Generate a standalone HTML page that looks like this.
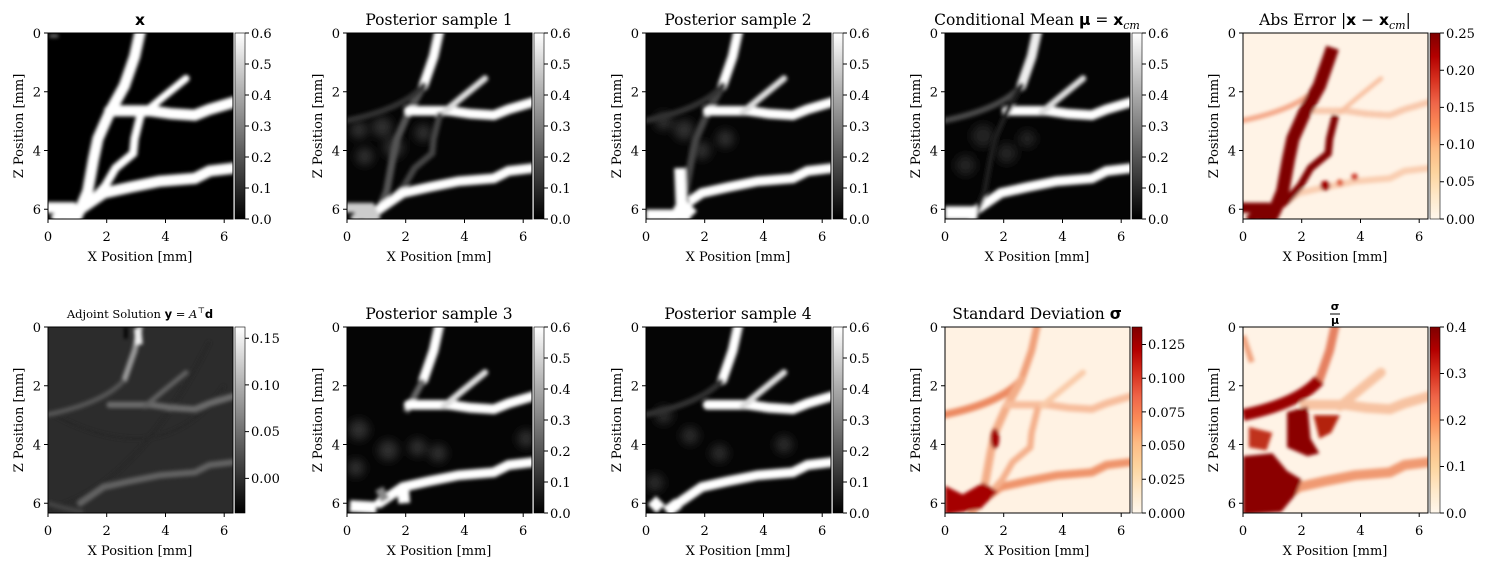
<!DOCTYPE html>
<html><head><meta charset="utf-8"><style>
html,body{margin:0;padding:0;background:#fff;}
svg{display:block;font-family:"DejaVu Serif","Liberation Serif",serif;}
.t{font-size:13px;fill:#000;}
.ti{font-size:15.5px;fill:#000;text-anchor:middle;}
.e{text-anchor:end;}
.m{text-anchor:middle;}
</style></head><body>
<svg width="1489" height="566" viewBox="0 0 1489 566" xmlns="http://www.w3.org/2000/svg">
<defs>
<linearGradient id="gray" x1="0" y1="1" x2="0" y2="0"><stop offset="0" stop-color="#000"/><stop offset="1" stop-color="#fff"/></linearGradient>
<linearGradient id="orrd" x1="0" y1="1" x2="0" y2="0">
<stop offset="0" stop-color="#fff7ec"/><stop offset=".125" stop-color="#fee8c8"/><stop offset=".25" stop-color="#fdd49e"/><stop offset=".375" stop-color="#fdbb84"/><stop offset=".5" stop-color="#fc8d59"/><stop offset=".625" stop-color="#ef6548"/><stop offset=".75" stop-color="#d7301f"/><stop offset=".875" stop-color="#b30000"/><stop offset="1" stop-color="#7f0000"/></linearGradient>
<filter id="b" x="-20%" y="-20%" width="140%" height="140%"><feGaussianBlur stdDeviation="0.06"/></filter>
<filter id="b2" x="-20%" y="-20%" width="140%" height="140%"><feGaussianBlur stdDeviation="0.15"/></filter>
<clipPath id="clip"><rect x="0" y="0" width="6.3" height="6.33"/></clipPath>
<path id="Tup" d="M3.15,-0.1 L2.95,0.8 L2.6,1.8" fill="none" stroke-linecap="round"/>
<path id="Tlow" d="M2.6,1.8 L2.1,2.7 L1.7,3.6 L1.55,4.3 L1.35,5.4 L1.1,6.0 L0.9,6.4" fill="none" stroke-linecap="round"/>
<path id="H1" d="M2.1,2.65 L3.5,2.65 L4.2,2.75 L5.0,2.8 L5.5,2.6 L6.35,2.35" fill="none" stroke-linecap="round"/>
<path id="D" d="M3.3,2.7 L3.9,2.2 L4.7,1.55" fill="none" stroke-linecap="round"/>
<path id="B" d="M3.15,2.8 L2.95,3.6 L2.9,4.1 L2.3,4.6 L1.95,5.2 L1.5,5.7 L1.05,6.05" fill="none" stroke-linecap="round"/>
<path id="H2" d="M1.1,6.0 L1.9,5.45 L2.8,5.25 L3.8,5.05 L5.0,4.95 L5.5,4.7 L6.35,4.6" fill="none" stroke-linecap="round"/>
<path id="BL" d="M-0.1,5.95 L0.8,5.95 L1.0,6.4 M0.2,6.4 L0.5,6.15 L0.8,6.4" fill="none"/>
<path id="Arc" d="M2.6,1.8 Q1.9,2.6 -0.1,3.0" fill="none"/>
<g id="ax">
<rect x="0" y="0" width="185" height="186" fill="none" stroke="#000" stroke-width="1"/>
<path d="M0,186v4M58.7,186v4M117.5,186v4M176.2,186v4M0,0h-4M0,58.7h-4M0,117.5h-4M0,176.2h-4" stroke="#000"/>
</g>
</defs>

<!-- P1 x -->
<g transform="translate(48,33)">
<g transform="scale(29.365)" clip-path="url(#clip)"><rect x="0" y="0" width="6.3" height="6.4" fill="#000"/>
<g stroke="#fff" stroke-width="0.38" filter="url(#b)"><use href="#Tup"/><use href="#Tlow"/><use href="#H1"/><use href="#D" stroke-width="0.25"/><use href="#B" stroke-width="0.28"/><use href="#H2"/><use href="#BL"/><path d="M0.05,0.1h0.3" stroke="#666" stroke-width="0.12"/></g></g>
<use href="#ax"/>
<rect x="187" y="0" width="10" height="186" fill="url(#gray)" stroke="#000" stroke-width="0.6"/>
<text class="ti" x="92" y="-8" font-weight="bold" font-family="DejaVu Sans,sans-serif">x</text>
</g>
<!-- P2 -->
<g transform="translate(347,33)">
<g transform="scale(29.365)" clip-path="url(#clip)"><rect x="0" y="0" width="6.3" height="6.4" fill="#050505"/>
<g filter="url(#b2)" fill="#2e2e2e"><circle cx="1.2" cy="3.2" r="0.35"/><circle cx="1.6" cy="3.9" r="0.35"/><circle cx="0.6" cy="4.2" r="0.3"/><circle cx="2.6" cy="3.4" r="0.3"/><circle cx="0.4" cy="3.3" r="0.3"/></g>
<g stroke="#fff" stroke-width="0.33" filter="url(#b)"><use href="#Tup"/><use href="#Tlow" stroke="#555" stroke-width="0.25"/><use href="#H1"/><use href="#D" stroke-width="0.22" stroke="#ddd"/><use href="#B" stroke="#444" stroke-width="0.22"/><use href="#H2"/><use href="#BL" stroke="#ccc"/><use href="#Arc" stroke="#333" stroke-width="0.2"/></g></g>
<use href="#ax"/>
<rect x="187" y="0" width="10" height="186" fill="url(#gray)" stroke="#000" stroke-width="0.6"/>
<text class="ti" x="92" y="-8">Posterior sample 1</text>
</g>
<!-- P3 -->
<g transform="translate(646,33)">
<g transform="scale(29.365)" clip-path="url(#clip)"><rect x="0" y="0" width="6.3" height="6.4" fill="#050505"/>
<g filter="url(#b2)" fill="#2e2e2e"><circle cx="1.3" cy="3.3" r="0.35"/><circle cx="1.9" cy="4.0" r="0.3"/><circle cx="0.6" cy="3.0" r="0.3"/><circle cx="2.7" cy="3.6" r="0.3"/></g>
<g stroke="#fff" stroke-width="0.33" filter="url(#b)"><use href="#Tup"/><use href="#Tlow" stroke="#444" stroke-width="0.25"/><use href="#H1"/><use href="#D" stroke-width="0.22" stroke="#ddd"/><use href="#H2"/><use href="#Arc" stroke="#333" stroke-width="0.2"/><path d="M1.15,4.6 L1.2,5.8 L1.6,6.2 M0,6.2 L1.5,6.2" stroke-width="0.38"/></g></g>
<use href="#ax"/>
<rect x="187" y="0" width="10" height="186" fill="url(#gray)" stroke="#000" stroke-width="0.6"/>
<text class="ti" x="92" y="-8">Posterior sample 2</text>
</g>
<!-- P4 mean -->
<g transform="translate(945,33)">
<g transform="scale(29.365)" clip-path="url(#clip)"><rect x="0" y="0" width="6.3" height="6.4" fill="#040404"/>
<g filter="url(#b2)" fill="#222"><circle cx="1.3" cy="3.5" r="0.4"/><circle cx="2.1" cy="4.1" r="0.35"/><circle cx="0.7" cy="4.5" r="0.35"/><circle cx="2.8" cy="3.6" r="0.3"/></g>
<g stroke="#fff" stroke-width="0.33" filter="url(#b)"><use href="#Tup" stroke="#eee"/><use href="#Arc" stroke="#4a4a4a" stroke-width="0.2"/><use href="#H1"/><use href="#D" stroke-width="0.22" stroke="#ddd"/><use href="#H2"/><use href="#Tlow" stroke="#1e1e1e" stroke-width="0.2"/><rect x="0" y="5.9" width="1.1" height="0.45" fill="#fff" stroke="none"/></g></g>
<use href="#ax"/>
<rect x="187" y="0" width="10" height="186" fill="url(#gray)" stroke="#000" stroke-width="0.6"/>
<text class="ti" x="92" y="-8">Conditional Mean <tspan font-weight="bold" font-family="DejaVu Sans,sans-serif">μ</tspan> = <tspan font-weight="bold" font-family="DejaVu Sans,sans-serif">x</tspan><tspan font-style="italic" font-size="11" dy="4">cm</tspan></text>
</g>
<!-- P5 abs error -->
<g transform="translate(1243,33)">
<g transform="scale(29.365)" clip-path="url(#clip)"><rect x="0" y="0" width="6.3" height="6.4" fill="#fff3e6"/>
<g filter="url(#b)" fill="none"><use href="#Arc" stroke="#f4a889" stroke-width="0.18"/><use href="#H1" stroke="#f8c8ac" stroke-width="0.22" stroke-dasharray="0.15 0.1"/><use href="#D" stroke="#f8c0a0" stroke-width="0.15"/><use href="#H2" stroke="#f9cdb0" stroke-width="0.22"/>
<path d="M3.05,0.5 L2.95,0.8 L2.6,1.8 L2.1,2.7 L1.7,3.6 L1.55,4.3 L1.35,5.4 L1.1,6.0 L0.9,6.4" stroke="#7f0000" stroke-width="0.45"/>
<path d="M3.15,2.8 L2.95,3.6 L2.9,4.1 L2.3,4.6 L1.95,5.2 L1.5,5.7 L1.05,6.05" stroke="#7f0000" stroke-width="0.25"/>
<use href="#BL" stroke="#7f0000" stroke-width="0.35"/>
<circle cx="2.8" cy="5.2" r="0.17" fill="#a00000"/><circle cx="3.8" cy="4.9" r="0.12" fill="#d04030"/><circle cx="3.3" cy="5.1" r="0.12" fill="#e06040"/></g></g>
<use href="#ax"/>
<rect x="187" y="0" width="10" height="186" fill="url(#orrd)" stroke="#000" stroke-width="0.6"/>
<text class="ti" x="92" y="-8">Abs Error |<tspan font-weight="bold" font-family="DejaVu Sans,sans-serif">x</tspan> − <tspan font-weight="bold" font-family="DejaVu Sans,sans-serif">x</tspan><tspan font-style="italic" font-size="11" dy="4">cm</tspan><tspan dy="-4">|</tspan></text>
</g>

<!-- P6 adjoint -->
<g transform="translate(48,327)">
<g transform="scale(29.365)" clip-path="url(#clip)"><rect x="0" y="0" width="6.3" height="6.4" fill="#2c2c2c"/>
<g filter="url(#b)" fill="none"><path d="M5.5,0.5 Q3,5.5 0,6.2" stroke="#262626" stroke-width="0.1"/><path d="M6,2 Q4,5 0.2,3" stroke="#282828" stroke-width="0.08"/>
<use href="#Tup" stroke="#9a9a9a" stroke-width="0.2"/><use href="#Arc" stroke="#555" stroke-width="0.17"/><use href="#H1" stroke="#6a6a6a" stroke-width="0.22"/><use href="#D" stroke="#606060" stroke-width="0.17"/><use href="#H2" stroke="#626262" stroke-width="0.22"/><path d="M3.05,0.05 L3.1,0.6" stroke="#eee" stroke-width="0.25"/><path d="M2.65,0 v0.4" stroke="#000" stroke-width="0.12"/><path d="M0,6 Q0.6,6.2 1.2,6.3" stroke="#444" stroke-width="0.15"/></g></g>
<use href="#ax"/>
<rect x="187" y="0" width="10" height="186" fill="url(#gray)" stroke="#000" stroke-width="0.6"/>
<text x="92" y="-9" style="font-size:11.5px" text-anchor="middle">Adjoint Solution <tspan font-weight="bold" font-family="DejaVu Sans,sans-serif">y</tspan> = <tspan font-style="italic">A</tspan><tspan font-size="8" dy="-5">⊤</tspan><tspan dy="5" font-weight="bold" font-family="DejaVu Sans,sans-serif">d</tspan></text>
</g>
<!-- P7 -->
<g transform="translate(347,327)">
<g transform="scale(29.365)" clip-path="url(#clip)"><rect x="0" y="0" width="6.3" height="6.4" fill="#050505"/>
<g filter="url(#b2)" fill="#2e2e2e"><circle cx="0.4" cy="3.5" r="0.35"/><circle cx="1.4" cy="4.2" r="0.35"/><circle cx="2.4" cy="4.1" r="0.3"/><circle cx="0.3" cy="4.8" r="0.3"/><circle cx="3.1" cy="4.3" r="0.3"/><circle cx="6.1" cy="3.8" r="0.3"/></g>
<g stroke="#fff" stroke-width="0.33" filter="url(#b)"><use href="#Tup"/><path d="M2.6,1.8 L2.0,2.9" stroke="#666" stroke-width="0.22"/><use href="#H1"/><use href="#D" stroke-width="0.22" stroke="#ddd"/><use href="#H2"/><path d="M0.1,6.1 L1.0,6.15 M1.9,5.4 L1.95,6.0" stroke-width="0.4"/><path d="M1.1,5.5 L1.3,5.9" stroke="#888" stroke-width="0.3"/></g></g>
<use href="#ax"/>
<rect x="187" y="0" width="10" height="186" fill="url(#gray)" stroke="#000" stroke-width="0.6"/>
<text class="ti" x="92" y="-8">Posterior sample 3</text>
</g>
<!-- P8 -->
<g transform="translate(646,327)">
<g transform="scale(29.365)" clip-path="url(#clip)"><rect x="0" y="0" width="6.3" height="6.4" fill="#050505"/>
<g filter="url(#b2)" fill="#2a2a2a"><circle cx="0.6" cy="3.0" r="0.3"/><circle cx="1.5" cy="3.7" r="0.3"/><circle cx="2.5" cy="4.3" r="0.3"/><circle cx="0.3" cy="5.3" r="0.3"/><circle cx="4.7" cy="4.0" r="0.3"/></g>
<g stroke="#fff" stroke-width="0.33" filter="url(#b)"><use href="#Tup"/><use href="#Arc" stroke="#333" stroke-width="0.2"/><use href="#H1"/><use href="#D" stroke-width="0.22" stroke="#ddd"/><use href="#H2"/><path d="M0.2,5.9 L0.5,6.2 M1.1,6.0 L0.7,6.3" stroke-width="0.4"/></g></g>
<use href="#ax"/>
<rect x="187" y="0" width="10" height="186" fill="url(#gray)" stroke="#000" stroke-width="0.6"/>
<text class="ti" x="92" y="-8">Posterior sample 4</text>
</g>
<!-- P9 std -->
<g transform="translate(945,327)">
<g transform="scale(29.365)" clip-path="url(#clip)"><rect x="0" y="0" width="6.3" height="6.4" fill="#fff2e3"/>
<g filter="url(#b)" fill="none"><use href="#Tup" stroke="#f0a07a" stroke-width="0.25"/><use href="#Arc" stroke="#ec8a62" stroke-width="0.26"/><use href="#Tlow" stroke="#f3ad88" stroke-width="0.28"/><use href="#H1" stroke="#f7bd9c" stroke-width="0.25"/><use href="#D" stroke="#f9caa8" stroke-width="0.2"/><use href="#H2" stroke="#ef946c" stroke-width="0.28"/><use href="#B" stroke="#f4b08c" stroke-width="0.22"/>
<ellipse cx="1.7" cy="3.8" rx="0.15" ry="0.35" fill="#a00000"/>
<path d="M0,5.4 L0.6,5.7 L1.3,5.3 L1.8,5.6 L1.2,6.2 L0,6.4Z" fill="#a50000"/></g></g>
<use href="#ax"/>
<rect x="187" y="0" width="10" height="186" fill="url(#orrd)" stroke="#000" stroke-width="0.6"/>
<text class="ti" x="92" y="-8">Standard Deviation <tspan font-weight="bold" font-family="DejaVu Sans,sans-serif">σ</tspan></text>
</g>
<!-- P10 ratio -->
<g transform="translate(1243,327)">
<g transform="scale(29.365)" clip-path="url(#clip)"><rect x="0" y="0" width="6.3" height="6.4" fill="#fff3e6"/>
<g filter="url(#b)" fill="none"><use href="#Tup" stroke="#e58060" stroke-width="0.3"/><path d="M0,0.3 L0.3,1.2" stroke="#f0a27e" stroke-width="0.2"/><use href="#H1" stroke="#f7c3a2" stroke-width="0.34"/><use href="#D" stroke="#f7c3a2" stroke-width="0.32"/><use href="#H2" stroke="#f09a72" stroke-width="0.34"/>
<path d="M2.6,1.8 Q1.9,2.6 0,3.0" stroke="#9a0000" stroke-width="0.4"/>
<path d="M1.5,2.9 L2.2,2.7 L2.3,3.8 L2.6,4.3 L2.2,4.4 L1.5,4.1Z" fill="#8b0000"/>
<path d="M2.4,3.0 L3.3,3.0 L3.0,3.6 L2.6,3.8Z" fill="#b32010"/>
<path d="M0,4.4 L1.0,4.3 L1.5,4.9 L2.0,5.2 L1.8,5.7 L1.3,6.3 L0,6.4Z" fill="#8b0000"/>
<path d="M0.2,3.4 L1.0,3.6 L0.8,4.2 L0.2,4.1Z" fill="#c0301f"/></g></g>
<use href="#ax"/>
<rect x="187" y="0" width="10" height="186" fill="url(#orrd)" stroke="#000" stroke-width="0.6"/>
<text class="ti" x="92" y="-17" font-weight="bold" font-family="DejaVu Sans,sans-serif" style="font-size:11px">σ</text>
<path d="M87,-13h10" stroke="#000" stroke-width="1"/>
<text class="ti" x="92" y="-3" font-weight="bold" font-family="DejaVu Sans,sans-serif" style="font-size:11px">μ</text>
</g>

<g class="t">
<g transform="translate(48,33)"><text class="t m" x="0" y="208">0</text><text class="t m" x="58.7" y="208">2</text><text class="t m" x="117.5" y="208">4</text><text class="t m" x="176.2" y="208">6</text><text class="t e" x="-7" y="5">0</text><text class="t e" x="-7" y="63.7">2</text><text class="t e" x="-7" y="122.5">4</text><text class="t e" x="-7" y="181.2">6</text><text class="t m" x="92" y="228">X Position [mm]</text><text class="t m" transform="translate(-25,93) rotate(-90)">Z Position [mm]</text></g>
<g transform="translate(347,33)"><text class="t m" x="0" y="208">0</text><text class="t m" x="58.7" y="208">2</text><text class="t m" x="117.5" y="208">4</text><text class="t m" x="176.2" y="208">6</text><text class="t e" x="-7" y="5">0</text><text class="t e" x="-7" y="63.7">2</text><text class="t e" x="-7" y="122.5">4</text><text class="t e" x="-7" y="181.2">6</text><text class="t m" x="92" y="228">X Position [mm]</text><text class="t m" transform="translate(-25,93) rotate(-90)">Z Position [mm]</text></g>
<g transform="translate(646,33)"><text class="t m" x="0" y="208">0</text><text class="t m" x="58.7" y="208">2</text><text class="t m" x="117.5" y="208">4</text><text class="t m" x="176.2" y="208">6</text><text class="t e" x="-7" y="5">0</text><text class="t e" x="-7" y="63.7">2</text><text class="t e" x="-7" y="122.5">4</text><text class="t e" x="-7" y="181.2">6</text><text class="t m" x="92" y="228">X Position [mm]</text><text class="t m" transform="translate(-25,93) rotate(-90)">Z Position [mm]</text></g>
<g transform="translate(945,33)"><text class="t m" x="0" y="208">0</text><text class="t m" x="58.7" y="208">2</text><text class="t m" x="117.5" y="208">4</text><text class="t m" x="176.2" y="208">6</text><text class="t e" x="-7" y="5">0</text><text class="t e" x="-7" y="63.7">2</text><text class="t e" x="-7" y="122.5">4</text><text class="t e" x="-7" y="181.2">6</text><text class="t m" x="92" y="228">X Position [mm]</text><text class="t m" transform="translate(-25,93) rotate(-90)">Z Position [mm]</text></g>
<g transform="translate(1243,33)"><text class="t m" x="0" y="208">0</text><text class="t m" x="58.7" y="208">2</text><text class="t m" x="117.5" y="208">4</text><text class="t m" x="176.2" y="208">6</text><text class="t e" x="-7" y="5">0</text><text class="t e" x="-7" y="63.7">2</text><text class="t e" x="-7" y="122.5">4</text><text class="t e" x="-7" y="181.2">6</text><text class="t m" x="92" y="228">X Position [mm]</text><text class="t m" transform="translate(-25,93) rotate(-90)">Z Position [mm]</text></g>
<g transform="translate(48,327)"><text class="t m" x="0" y="208">0</text><text class="t m" x="58.7" y="208">2</text><text class="t m" x="117.5" y="208">4</text><text class="t m" x="176.2" y="208">6</text><text class="t e" x="-7" y="5">0</text><text class="t e" x="-7" y="63.7">2</text><text class="t e" x="-7" y="122.5">4</text><text class="t e" x="-7" y="181.2">6</text><text class="t m" x="92" y="228">X Position [mm]</text><text class="t m" transform="translate(-25,93) rotate(-90)">Z Position [mm]</text></g>
<g transform="translate(347,327)"><text class="t m" x="0" y="208">0</text><text class="t m" x="58.7" y="208">2</text><text class="t m" x="117.5" y="208">4</text><text class="t m" x="176.2" y="208">6</text><text class="t e" x="-7" y="5">0</text><text class="t e" x="-7" y="63.7">2</text><text class="t e" x="-7" y="122.5">4</text><text class="t e" x="-7" y="181.2">6</text><text class="t m" x="92" y="228">X Position [mm]</text><text class="t m" transform="translate(-25,93) rotate(-90)">Z Position [mm]</text></g>
<g transform="translate(646,327)"><text class="t m" x="0" y="208">0</text><text class="t m" x="58.7" y="208">2</text><text class="t m" x="117.5" y="208">4</text><text class="t m" x="176.2" y="208">6</text><text class="t e" x="-7" y="5">0</text><text class="t e" x="-7" y="63.7">2</text><text class="t e" x="-7" y="122.5">4</text><text class="t e" x="-7" y="181.2">6</text><text class="t m" x="92" y="228">X Position [mm]</text><text class="t m" transform="translate(-25,93) rotate(-90)">Z Position [mm]</text></g>
<g transform="translate(945,327)"><text class="t m" x="0" y="208">0</text><text class="t m" x="58.7" y="208">2</text><text class="t m" x="117.5" y="208">4</text><text class="t m" x="176.2" y="208">6</text><text class="t e" x="-7" y="5">0</text><text class="t e" x="-7" y="63.7">2</text><text class="t e" x="-7" y="122.5">4</text><text class="t e" x="-7" y="181.2">6</text><text class="t m" x="92" y="228">X Position [mm]</text><text class="t m" transform="translate(-25,93) rotate(-90)">Z Position [mm]</text></g>
<g transform="translate(1243,327)"><text class="t m" x="0" y="208">0</text><text class="t m" x="58.7" y="208">2</text><text class="t m" x="117.5" y="208">4</text><text class="t m" x="176.2" y="208">6</text><text class="t e" x="-7" y="5">0</text><text class="t e" x="-7" y="63.7">2</text><text class="t e" x="-7" y="122.5">4</text><text class="t e" x="-7" y="181.2">6</text><text class="t m" x="92" y="228">X Position [mm]</text><text class="t m" transform="translate(-25,93) rotate(-90)">Z Position [mm]</text></g>
</g>

<g stroke="#000" stroke-width="1">
<path d="M245,33h4M245,64h4M245,95h4M245,126h4M245,157h4M245,188h4M245,219h4"/>
<path d="M544,33h4M544,64h4M544,95h4M544,126h4M544,157h4M544,188h4M544,219h4"/>
<path d="M843,33h4M843,64h4M843,95h4M843,126h4M843,157h4M843,188h4M843,219h4"/>
<path d="M1142,33h4M1142,64h4M1142,95h4M1142,126h4M1142,157h4M1142,188h4M1142,219h4"/>
<path d="M1440,33h4M1440,70.2h4M1440,107.4h4M1440,144.6h4M1440,181.8h4M1440,219h4"/>
<path d="M245,338.2h4M245,384.9h4M245,431.6h4M245,478.4h4"/>
<path d="M544,327h4M544,358h4M544,389h4M544,420h4M544,451h4M544,482h4M544,513h4"/>
<path d="M843,327h4M843,358h4M843,389h4M843,420h4M843,451h4M843,482h4M843,513h4"/>
<path d="M1142,344.5h4M1142,378.2h4M1142,411.9h4M1142,445.6h4M1142,479.3h4M1142,513h4"/>
<path d="M1440,327h4M1440,373.5h4M1440,420h4M1440,466.5h4M1440,513h4"/>
</g>
<g class="t">
<text x="251" y="38">0.6</text><text x="251" y="69">0.5</text><text x="251" y="100">0.4</text><text x="251" y="131">0.3</text><text x="251" y="162">0.2</text><text x="251" y="193">0.1</text><text x="251" y="224">0.0</text>
<text x="550" y="38">0.6</text><text x="550" y="69">0.5</text><text x="550" y="100">0.4</text><text x="550" y="131">0.3</text><text x="550" y="162">0.2</text><text x="550" y="193">0.1</text><text x="550" y="224">0.0</text>
<text x="849" y="38">0.6</text><text x="849" y="69">0.5</text><text x="849" y="100">0.4</text><text x="849" y="131">0.3</text><text x="849" y="162">0.2</text><text x="849" y="193">0.1</text><text x="849" y="224">0.0</text>
<text x="1148" y="38">0.6</text><text x="1148" y="69">0.5</text><text x="1148" y="100">0.4</text><text x="1148" y="131">0.3</text><text x="1148" y="162">0.2</text><text x="1148" y="193">0.1</text><text x="1148" y="224">0.0</text>
<text x="1446" y="38">0.25</text><text x="1446" y="75">0.20</text><text x="1446" y="112">0.15</text><text x="1446" y="149">0.10</text><text x="1446" y="186">0.05</text><text x="1446" y="224">0.00</text>
<text x="251" y="343">0.15</text><text x="251" y="390">0.10</text><text x="251" y="436">0.05</text><text x="251" y="483">0.00</text>
<text x="550" y="332">0.6</text><text x="550" y="363">0.5</text><text x="550" y="394">0.4</text><text x="550" y="425">0.3</text><text x="550" y="456">0.2</text><text x="550" y="487">0.1</text><text x="550" y="518">0.0</text>
<text x="849" y="332">0.6</text><text x="849" y="363">0.5</text><text x="849" y="394">0.4</text><text x="849" y="425">0.3</text><text x="849" y="456">0.2</text><text x="849" y="487">0.1</text><text x="849" y="518">0.0</text>
<text x="1148" y="349">0.125</text><text x="1148" y="383">0.100</text><text x="1148" y="417">0.075</text><text x="1148" y="450">0.050</text><text x="1148" y="484">0.025</text><text x="1148" y="518">0.000</text>
<text x="1446" y="332">0.4</text><text x="1446" y="378">0.3</text><text x="1446" y="425">0.2</text><text x="1446" y="471">0.1</text><text x="1446" y="518">0.0</text>
</g>
</svg>
</body></html>
